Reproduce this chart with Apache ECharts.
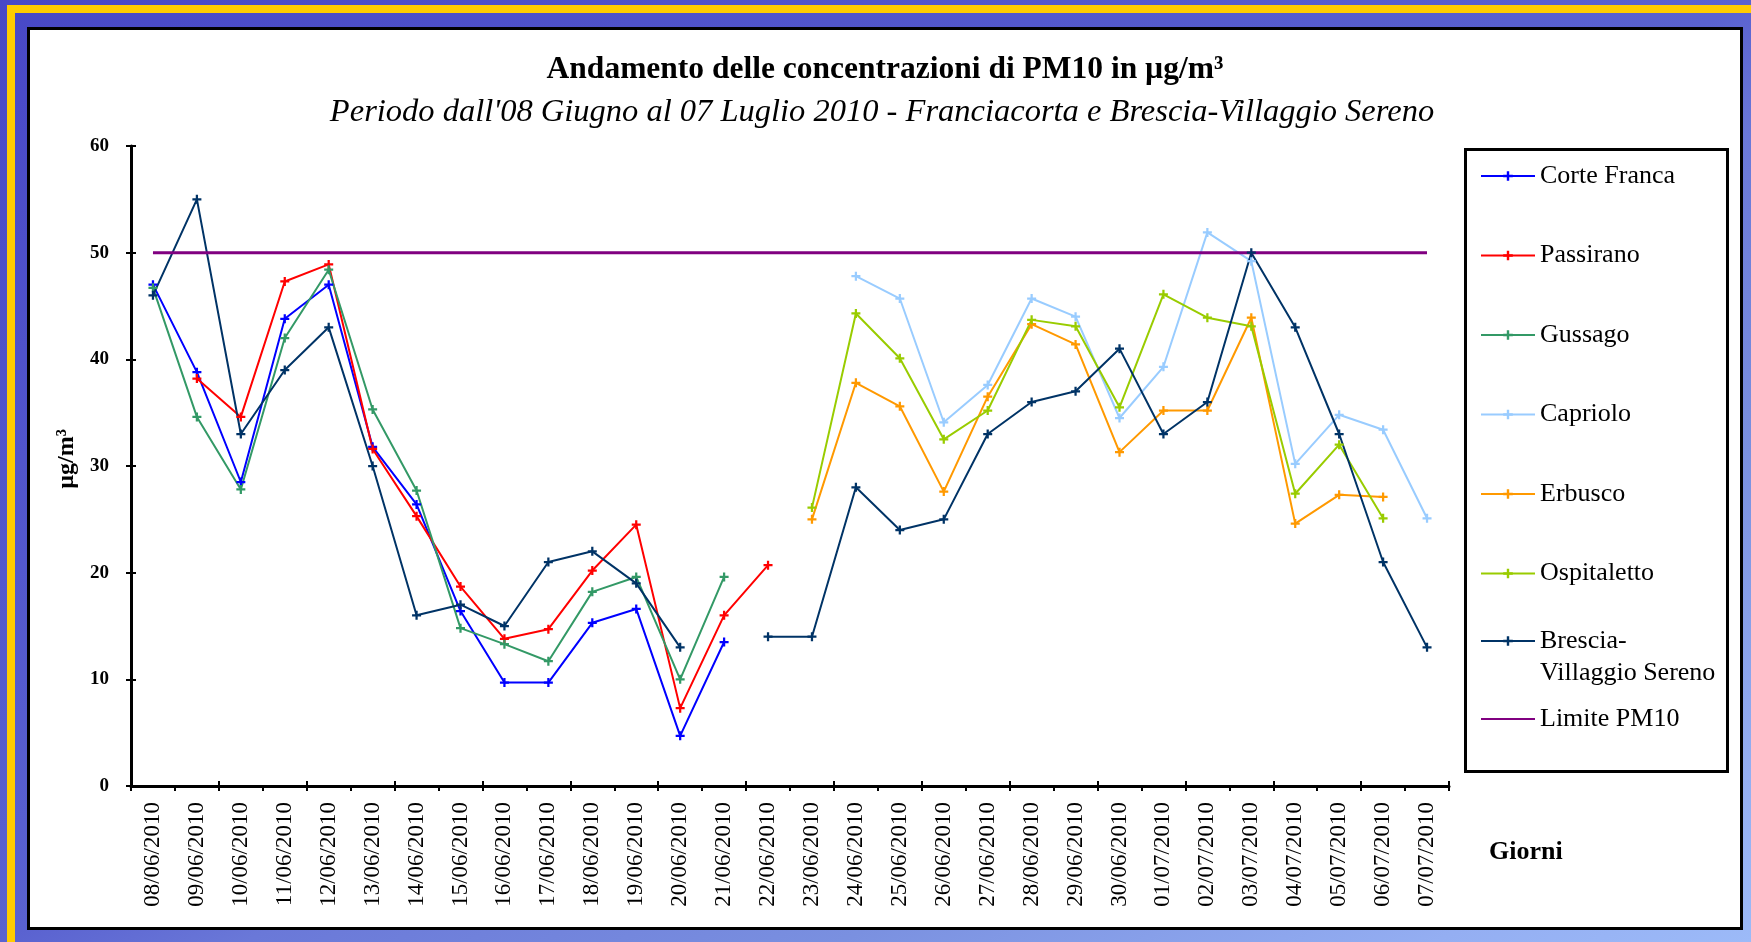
<!DOCTYPE html>
<html>
<head>
<meta charset="utf-8">
<script src="https://cdn.jsdelivr.net/npm/echarts@6/dist/echarts.min.js"></script>
<style>
  html, body { margin: 0; padding: 0; }
  #chart {
    width: 1751px;
    height: 942px;
    background: linear-gradient(to bottom right, #4848c6 0%, #5a62d0 50%, #6a78d8 57%, #7a90e0 74%, #94aef2 91%, #9cbaf8 100%);
  }
</style>
</head>
<body>
<div id="chart"></div>
<script>
// giorni di misura
const giorni = [
  '08/06/2010', '09/06/2010', '10/06/2010', '11/06/2010', '12/06/2010', '13/06/2010',
  '14/06/2010', '15/06/2010', '16/06/2010', '17/06/2010', '18/06/2010', '19/06/2010',
  '20/06/2010', '21/06/2010', '22/06/2010', '23/06/2010', '24/06/2010', '25/06/2010',
  '26/06/2010', '27/06/2010', '28/06/2010', '29/06/2010', '30/06/2010', '01/07/2010',
  '02/07/2010', '03/07/2010', '04/07/2010', '05/07/2010', '06/07/2010', '07/07/2010'
];
const n = null;

// concentrazioni PM10 (µg/m³) per stazione
const corteFranca = [47, 38.8, 28.5, 43.8, 47, 31.8, 26.4, 16.4, 9.7, 9.7, 15.3, 16.6, 4.7, 13.5,
  n, n, n, n, n, n, n, n, n, n, n, n, n, n, n, n];
const passirano = [n, 38.2, 34.6, 47.3, 48.9, 31.6, 25.3, 18.7, 13.8, 14.7, 20.2, 24.5, 7.3, 16, 20.7,
  n, n, n, n, n, n, n, n, n, n, n, n, n, n, n];
const gussago = [46.7, 34.6, 27.8, 42, 48.4, 35.3, 27.7, 14.8, 13.3, 11.7, 18.2, 19.6, 10, 19.6,
  n, n, n, n, n, n, n, n, n, n, n, n, n, n, n, n];
const capriolo = [n, n, n, n, n, n, n, n, n, n, n, n, n, n, n, n,
  47.8, 45.7, 34.1, 37.6, 45.7, 44, 34.5, 39.3, 51.9, 49.2, 30.2, 34.8, 33.4, 25.1];
const erbusco = [n, n, n, n, n, n, n, n, n, n, n, n, n, n, n,
  25, 37.8, 35.6, 27.6, 36.5, 43.3, 41.4, 31.3, 35.2, 35.2, 43.9, 24.6, 27.3, 27.1, n];
const ospitaletto = [n, n, n, n, n, n, n, n, n, n, n, n, n, n, n,
  26.1, 44.3, 40.1, 32.5, 35.2, 43.7, 43.1, 35.5, 46.1, 43.9, 43.1, 27.4, 32, 25.1, n];
const bresciaVS = [46, 55, 33, 39, 43, 30, 16, 17, 15, 21, 22, 19, 13, n, 14, 14,
  28, 24, 25, 33, 36, 37, 41, 33, 36, 50, 43, 33, 21, 13];
const limite = [50, 50, 50, 50, 50, 50, 50, 50, 50, 50, 50, 50, 50, 50, 50,
  50, 50, 50, 50, 50, 50, 50, 50, 50, 50, 50, 50, 50, 50, 50];
const yTicks = [0, 10, 20, 30, 40, 50, 60];

const FONT = "'Liberation Serif', 'Times New Roman', serif";
const PLUS = 'path://M3,0H5V3H8V5H5V8H3V5H0V3H3Z';

const chart = echarts.init(document.getElementById('chart'));

const stazione = (name, data, color) => ({
  name: name,
  type: 'line',
  data: data,
  symbol: PLUS,
  symbolSize: 9,
  showSymbol: true,
  connectNulls: false,
  itemStyle: { color: color },
  lineStyle: { color: color, width: 2 }
});

const grid = { left: 131, right: 302, top: 146, bottom: 156 };
const legendText = { fontFamily: FONT, fontSize: 26, lineHeight: 24, color: '#000' };

const option = {
  backgroundColor: 'transparent',
  animation: false,
  graphic: [
    // cornice gialla
    { type: 'rect', z: -10, shape: { x: 7, y: 5, width: 1744, height: 8 }, style: { fill: '#FFCC00' } },
    { type: 'rect', z: -10, shape: { x: 7, y: 5, width: 8, height: 937 }, style: { fill: '#FFCC00' } },
    // area bianca del grafico
    { type: 'rect', z: -10, shape: { x: 28.5, y: 28.5, width: 1713, height: 900 },
      style: { fill: '#ffffff', stroke: '#000000', lineWidth: 3 } },
    // riquadro legenda
    { type: 'rect', z: -5, shape: { x: 1465.5, y: 149.5, width: 262, height: 622 },
      style: { fill: 'none', stroke: '#000000', lineWidth: 3 } },
    // titolo asse x
    { type: 'text', x: 1489, y: 852,
      style: { text: 'Giorni', fill: '#000', font: "bold 26px 'Liberation Serif', 'Times New Roman', serif",
        textAlign: 'left', textVerticalAlign: 'middle' } }
  ],
  title: [
    {
      text: 'Andamento delle concentrazioni di PM10 in µg/m³',
      left: 880, top: 49, textAlign: 'center',
      textStyle: { fontFamily: FONT, fontSize: 31.5, fontWeight: 'bold', color: '#000' }
    },
    {
      text: "Periodo dall'08 Giugno al 07 Luglio 2010 - Franciacorta e Brescia-Villaggio Sereno",
      left: 877, top: 91, textAlign: 'center',
      textStyle: { fontFamily: FONT, fontSize: 32.5, fontStyle: 'italic', fontWeight: 'normal', color: '#000' }
    }
  ],
  legend: [
    {
      orient: 'vertical', left: 1480, top: 163, padding: 0,
      itemWidth: 54, itemHeight: 12, itemGap: 53.5,
      data: ['Corte Franca', 'Passirano', 'Gussago', 'Capriolo', 'Erbusco', 'Ospitaletto'],
      textStyle: legendText
    },
    {
      orient: 'vertical', left: 1480, top: 593, padding: 0,
      itemWidth: 54, itemHeight: 12,
      data: ['Brescia-Villaggio Sereno'],
      formatter: () => ' \nBrescia-\nVillaggio Sereno',
      textStyle: Object.assign({}, legendText, { lineHeight: 32 })
    },
    {
      orient: 'vertical', left: 1480, top: 706, padding: 0,
      itemWidth: 54, itemHeight: 12,
      data: [{ name: 'Limite PM10', itemStyle: { opacity: 0 } }],
      textStyle: legendText
    }
  ],
  grid: [grid, Object.assign({}, grid)],
  xAxis: [
    {
      type: 'category', data: giorni, gridIndex: 0,
      boundaryGap: true,
      axisLine: { lineStyle: { color: '#000', width: 3 } },
      axisTick: { show: true, length: 5, lineStyle: { color: '#000', width: 2 } },
      axisLabel: { rotate: 90, interval: 0, margin: 16, fontFamily: FONT, fontSize: 23, color: '#000' },
      splitLine: { show: false }
    },
    {
      type: 'category', data: giorni, gridIndex: 1,
      boundaryGap: true,
      axisLine: { show: false },
      axisTick: { show: true, inside: true, length: 5, lineStyle: { color: '#000', width: 2 } },
      axisLabel: { show: false },
      splitLine: { show: false }
    }
  ],
  yAxis: [
    {
      type: 'value', gridIndex: 0,
      min: yTicks[0], max: yTicks[yTicks.length - 1], interval: 10,
      name: 'µg/m³', nameLocation: 'middle', nameRotate: 90, nameGap: 52,
      nameTextStyle: { fontFamily: FONT, fontSize: 24, fontWeight: 'bold', color: '#000', padding: [0, 0, 0, 14] },
      axisLine: { show: true, lineStyle: { color: '#000', width: 3 } },
      axisTick: { show: true, length: 5, lineStyle: { color: '#000', width: 2 } },
      axisLabel: { margin: 22, fontFamily: FONT, fontSize: 19, fontWeight: 'bold', color: '#000' },
      splitLine: { show: false }
    },
    {
      type: 'value', gridIndex: 1,
      min: yTicks[0], max: yTicks[yTicks.length - 1], interval: 10,
      axisLine: { show: false },
      axisTick: { show: true, inside: true, length: 5, lineStyle: { color: '#000', width: 2 } },
      axisLabel: { show: false },
      splitLine: { show: false }
    }
  ],
  series: [
    stazione('Corte Franca', corteFranca, '#0000FF'),
    stazione('Passirano', passirano, '#FF0000'),
    stazione('Gussago', gussago, '#339966'),
    stazione('Capriolo', capriolo, '#99CCFF'),
    stazione('Erbusco', erbusco, '#FF9900'),
    stazione('Ospitaletto', ospitaletto, '#99CC00'),
    stazione('Brescia-Villaggio Sereno', bresciaVS, '#003366'),
    {
      name: 'Limite PM10',
      type: 'line',
      data: limite,
      symbol: 'none',
      itemStyle: { color: '#800080' },
      lineStyle: { color: '#800080', width: 3 }
    }
  ]
};

chart.setOption(option);
window.addEventListener('resize', () => chart.resize());
</script>
</body>
</html>
